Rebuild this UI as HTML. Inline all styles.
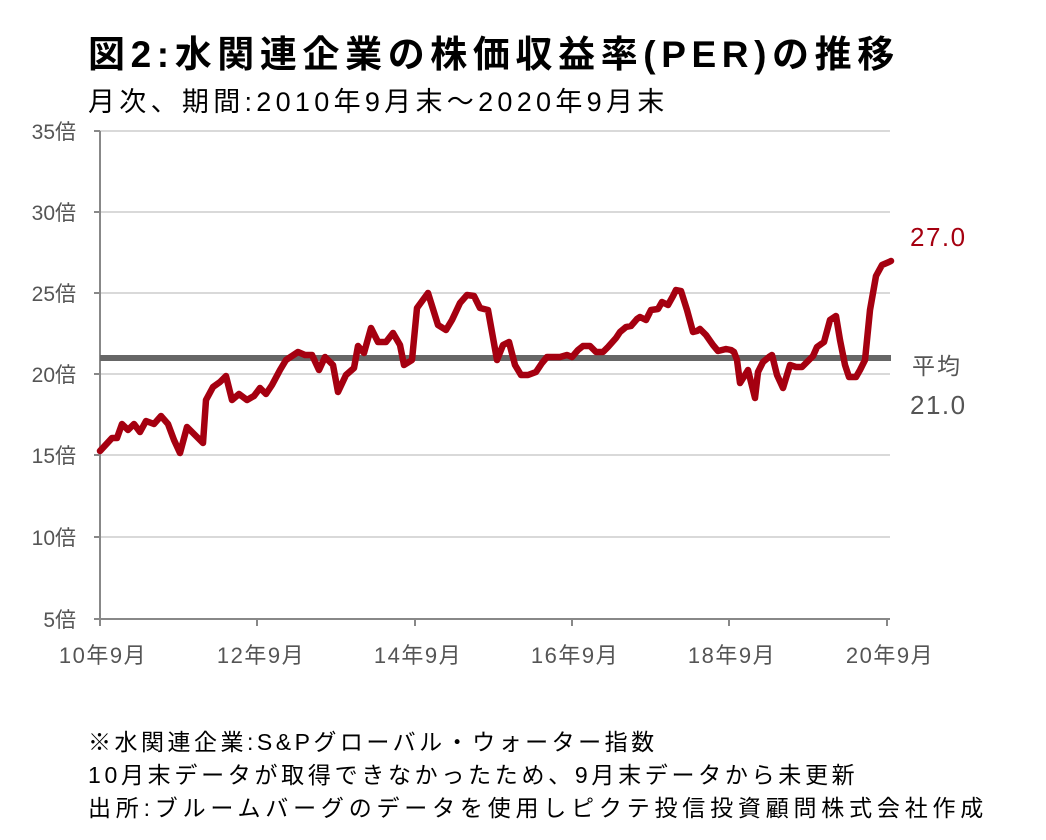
<!DOCTYPE html><html><head><meta charset="utf-8"><style>
body{margin:0;width:1046px;height:840px;background:#fff;font-family:"Liberation Sans","Noto Sans CJK JP",sans-serif;position:relative;overflow:hidden}
.t{position:absolute;white-space:nowrap;color:#000}
</style></head><body>
<div class="t" style="left:88px;top:24px;font-size:37px;font-weight:bold;letter-spacing:5.6px">図2:水関連企業の株価収益率(PER)の推移</div>
<div class="t" style="left:88px;top:80px;font-size:27px;letter-spacing:4.3px">月次、期間:2010年9月末～2020年9月末</div>
<svg width="1046" height="840" style="position:absolute;left:0;top:0">
<g stroke="#d9d9d9" stroke-width="2">
<line x1="100" x2="890" y1="131" y2="131"/><line x1="100" x2="890" y1="212" y2="212"/><line x1="100" x2="890" y1="293" y2="293"/><line x1="100" x2="890" y1="374" y2="374"/><line x1="100" x2="890" y1="455" y2="455"/><line x1="100" x2="890" y1="537" y2="537"/></g>
<g stroke="#888" stroke-width="2"><line x1="100" x2="100" y1="131" y2="626"/><line x1="100" x2="890" y1="619" y2="619"/>
<line x1="94" x2="100" y1="131" y2="131"/><line x1="94" x2="100" y1="212" y2="212"/><line x1="94" x2="100" y1="293" y2="293"/><line x1="94" x2="100" y1="374" y2="374"/><line x1="94" x2="100" y1="455" y2="455"/><line x1="94" x2="100" y1="537" y2="537"/><line x1="94" x2="100" y1="619" y2="619"/>
<line x1="257" x2="257" y1="619" y2="626"/><line x1="415" x2="415" y1="619" y2="626"/><line x1="572" x2="572" y1="619" y2="626"/><line x1="729" x2="729" y1="619" y2="626"/><line x1="887" x2="887" y1="619" y2="626"/></g>
<line x1="100" x2="891" y1="358" y2="358" stroke="#666" stroke-width="6"/>
<polyline fill="none" stroke="#a50010" stroke-width="6.5" stroke-linejoin="round" stroke-linecap="round" points="100,451 112,438 117,438 122,424 128,430 134,424 140,432 146,421 154,424 161,416 168,424 174,440 180,453 187,427 200,440 203,443 206,400 213,387 220,382 226,376 232,400 239,394 247,400 254,396 260,388 266,394 272,385 280,370 286,360 298,352 305,355 312,355 319,370 325,357 333,365 338,392 346,375 354,368 358,346 364,353 371,328 378,342 386,342 393,333 400,345 404,365 412,360 417,308 428,293 438,325 446,330 452,320 460,303 467,295 474,296 480,308 488,310 497,360 503,345 509,342 515,365 521,375 528,375 536,372 542,363 547,357 560,357 567,355 572,357 578,350 583,346 590,346 596,352 603,352 608,347 616,338 620,332 626,327 631,326 637,319 640,317 646,320 651,310 658,309 662,302 668,305 673,296 676,290 681,291 687,310 693,332 697,331 700,329 706,335 713,345 718,351 726,349 731,350 734,352 737,360 740,383 745,375 748,370 751,382 755,398 758,372 763,362 769,357 772,355 777,375 783,388 790,365 796,367 802,367 809,360 813,356 817,347 824,342 830,320 836,316 840,340 845,365 849,377 856,377 860,370 865,360 870,310 876,276 882,265 889,262 891,261"/>
<g font-size="21" fill="#555" text-anchor="end" font-family="Liberation Sans,Noto Sans CJK JP,sans-serif">
<text x="76" y="139">35倍</text><text x="76" y="220">30倍</text><text x="76" y="301">25倍</text><text x="76" y="382">20倍</text><text x="76" y="463">15倍</text><text x="76" y="545">10倍</text><text x="76" y="627">5倍</text></g>
<g font-size="22" fill="#555" text-anchor="middle" letter-spacing="1.5" font-family="Liberation Sans,Noto Sans CJK JP,sans-serif">
<text x="103" y="663">10年9月</text><text x="261" y="663">12年9月</text><text x="418" y="663">14年9月</text><text x="575" y="663">16年9月</text><text x="732" y="663">18年9月</text><text x="890" y="663">20年9月</text></g>
<text x="910" y="246" font-size="26" letter-spacing="1.5" fill="#a50010" font-family="Liberation Sans,sans-serif">27.0</text>
<text x="912" y="374" font-size="23" letter-spacing="2" fill="#555" font-family="Liberation Sans,Noto Sans CJK JP,sans-serif">平均</text>
<text x="910" y="414" font-size="26" letter-spacing="1.5" fill="#555" font-family="Liberation Sans,sans-serif">21.0</text>
</svg>
<div class="t" style="left:88px;top:723px;font-size:23px;letter-spacing:3.5px">※水関連企業:S&amp;Pグローバル・ウォーター指数</div>
<div class="t" style="left:88px;top:756px;font-size:23px;letter-spacing:3.7px">10月末データが取得できなかったため、9月末データから未更新</div>
<div class="t" style="left:88px;top:789px;font-size:23px;letter-spacing:4.8px">出所:ブルームバーグのデータを使用しピクテ投信投資顧問株式会社作成</div>
</body></html>
